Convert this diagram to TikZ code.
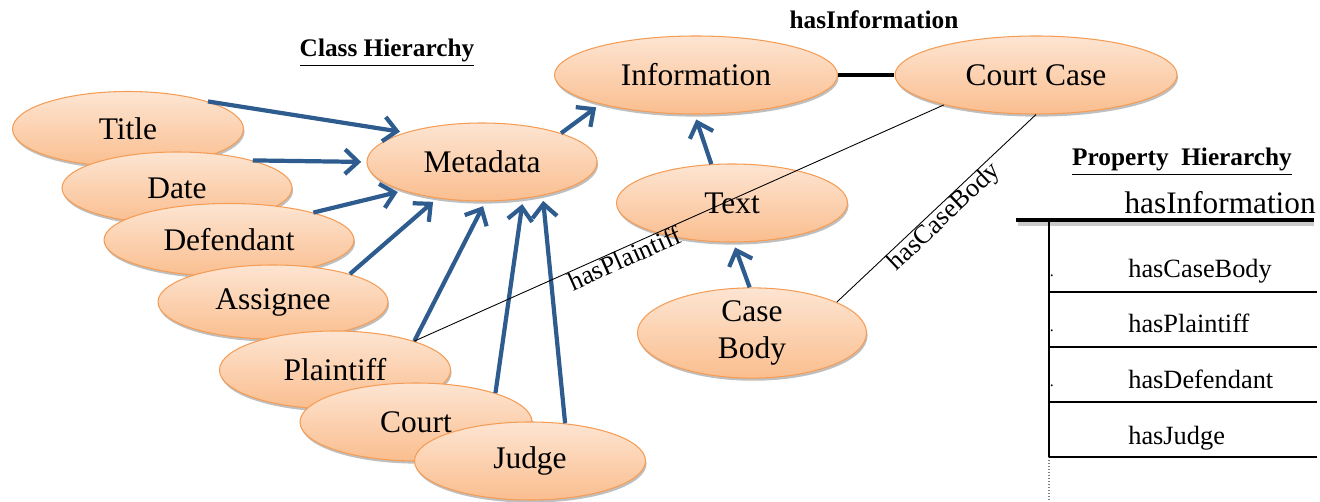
\documentclass[tikz,border=0pt]{standalone}
\usepackage{fontspec}
\setmainfont{Liberation Serif}
\usetikzlibrary{shapes.geometric,arrows.meta,shadows}
\definecolor{arrowblue}{RGB}{46,92,143}
\definecolor{ellborder}{RGB}{245,157,86}
\definecolor{elltop}{RGB}{253,229,210}
\definecolor{ellbot}{RGB}{250,190,143}
\tikzset{
 ell/.style 2 args={ellipse, draw=ellborder, line width=0.6pt, top color=elltop, bottom color=ellbot,
   minimum width=#1*0.02cm, minimum height=#2*0.02cm, inner sep=0pt,
   font=\fontsize{17.9}{20.6}\selectfont, align=center,
   drop shadow={shadow xshift=0.6pt, shadow yshift=-1.5pt, opacity=0.25, fill=black}},
 isa/.style={draw=arrowblue, line width=2.4pt, -{Straight Barb[length=7.5pt,width=14pt]}, shorten >=3pt},
 rel/.style={draw=black, line width=0.5pt},
 rellabel/.style={font=\fontsize{15}{17}\selectfont, sloped, below, inner sep=0pt},
 head/.style={font=\bfseries\fontsize{14.4}{16}\selectfont, inner sep=0pt},
 tablab/.style={font=\fontsize{15}{17}\selectfont, anchor=base west, inner sep=0pt},
 tabdot/.style={font=\fontsize{9}{10}\selectfont, anchor=base west, inner sep=0pt},
 tabline/.style={line width=0.7pt},
}
\begin{document}
\begin{tikzpicture}[x=0.02cm,y=-0.02cm]
\useasboundingbox (0,0) rectangle (1320,502);
% class ellipses
\node[ell={231}{75}] (title) at (128,129) {Title};
\node[ell={230}{72}] (date) at (177,188) {Date};
\node[ell={250}{73}] (defendant) at (229,240) {Defendant};
\node[ell={230}{74}] (assignee) at (273,302) {Assignee};
\node[ell={231}{78}] (plaintiff) at (335,370) {Plaintiff};
\node[ell={232}{78}] (court) at (416,422) {Court};
\node[ell={231}{78}] (judge) at (530,461) {Judge};
\node[ell={230}{78}] (metadata) at (482,162) {Metadata};
\node[ell={283}{78}] (information) at (696,75) {Information};
\node[ell={282}{78}] (courtcase) at (1036,75) {Court Case};
\node[ell={231}{78}] (text) at (732,203) {Text};
\node[ell={229}{80}] (casebody) at (752,333) {Case\\Body};
% is-a arrows
\draw[isa] (title.19) -- (metadata.159);
\draw[isa] (date.20) -- (metadata.180);
\draw[isa] (defendant.18) -- (metadata.200);
\draw[isa] (assignee.20) -- (metadata.219);
\draw[isa] (plaintiff.20) -- (metadata.275);
\draw[isa] (court.20) -- (metadata.318);
\draw[isa] (judge.47) -- (metadata.331);
\draw[isa] (metadata.20) -- (information.197);
\draw[isa] (text.118) -- (information.268);
\draw[isa] (casebody.93) -- (text.272);
% relations
\draw[line width=2.3pt] (information.east) -- (courtcase.west);
\draw[rel] (plaintiff.20) -- node[rellabel, pos=0.39] (lplaintiff) {hasPlaintiff} (courtcase.198);
\draw[rel] (casebody.20) -- node[rellabel, pos=0.5] (lcasebody) {hasCaseBody} (courtcase.270);
% headings
\node[head, anchor=base] (hasinfo) at (874,29) {hasInformation};
\node[head, anchor=base] (classh) at (387,57) {\underline{Class Hierarchy}};
\node[head, anchor=base] (proph) at (1182,166) {\underline{Property\ \ Hierarchy}};
% property hierarchy table
\node[font=\fontsize{17.8}{20}\selectfont, anchor=base east, inner sep=0pt] (hasinfoh) at (1316,214) {hasInformation};
\draw[line width=2.3pt, black!35, opacity=0.6] (1018,224) -- (1314,224);
\draw[line width=2.3pt] (1016,220) -- (1314,220);
\draw[tabline] (1049,220) -- (1049,457);
\draw[tabline, densely dotted, gray] (1049,457) -- (1049,502);
\foreach \yy in {292,347,402,457} \draw[tabline] (1049,\yy) -- (1317,\yy);
\node[tablab] (pcb) at (1128,278) {hasCaseBody};
\node[tablab] (ppl) at (1128,333) {hasPlaintiff};
\node[tablab] (pdf) at (1128,389) {hasDefendant};
\node[tablab] (pjd) at (1128,445) {hasJudge};
\node[tabdot] (d1) at (1049.5,277) {.};
\node[tabdot] (d2) at (1049.5,332) {.};
\node[tabdot] (d3) at (1049.5,387) {.};
\end{tikzpicture}
\end{document}
